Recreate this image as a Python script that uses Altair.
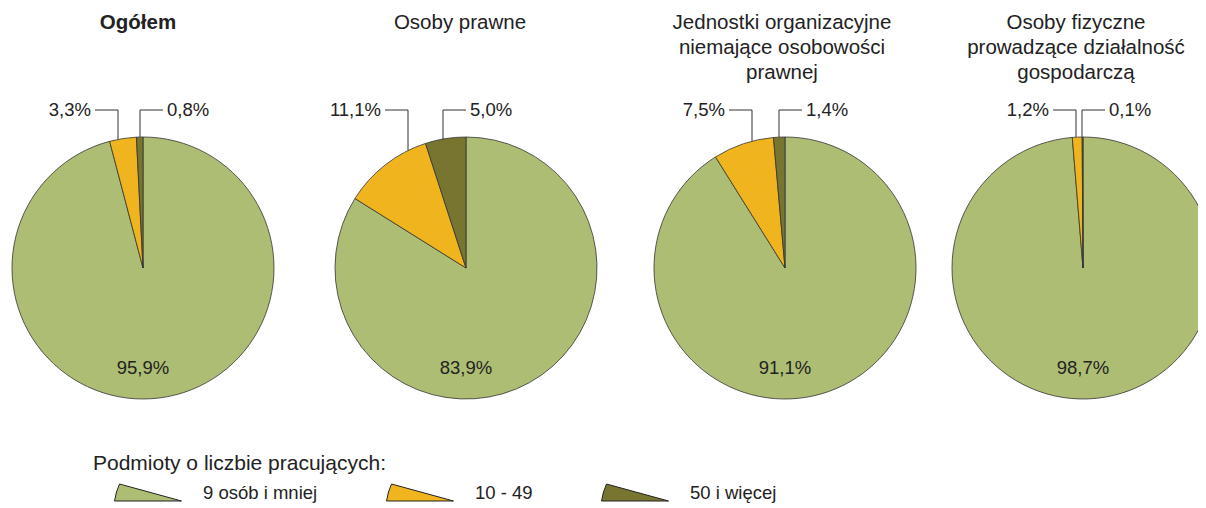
import math
import altair as alt
import pandas as pd

# ---------------- data ----------------
groups = ["Ogółem", "Osoby prawne",
          "Jednostki organizacyjne niemające osobowości prawnej",
          "Osoby fizyczne prowadzące działalność gospodarczą"]
title_lines = [["Ogółem"], ["Osoby prawne"],
               ["Jednostki organizacyjne", "niemające osobowości", "prawnej"],
               ["Osoby fizyczne", "prowadzące działalność", "gospodarczą"]]
categories = ["9 osób i mniej", "10 - 49", "50 i więcej"]
share_small = [95.9, 83.9, 91.1, 98.7]
share_medium = [3.3, 11.1, 7.5, 1.2]
share_large = [0.8, 5.0, 1.4, 0.1]
legend_title = "Podmioty o liczbie pracujących:"

# ---------------- style / layout (page pixels) ----------------
colors = ["#adbe74", "#f0b41f", "#787530"]
FONT = "Liberation Sans"
TEXT_COLOR = "#222222"
M = 8                      # page margin
PIE_CX = [143, 466, 785, 1083]
PIE_CY = 268
R = 131
TITLE_CX = [138, 460, 782, 1076]
TITLE_Y0 = 23
TITLE_DY = 25
LABEL_Y = 110
LEADER_DX_MED = [-25, -58, -33, -7]
LEADER_DX_LARGE = [-3, -23, -6, -1]
LEADER_LEN = 23
LEADER_GAP = 4
BIG_LABEL_DY = 100


def fmt(v):
    return f"{v:.1f}".replace(".", ",") + "%"


# ---------------- tables built from the lists ----------------
arc_rows, big_rows, rule_rows, lab_left, lab_right, title_rows = [], [], [], [], [], []
for i, g in enumerate(groups):
    vals = [share_small[i], share_medium[i], share_large[i]]
    total = sum(vals)
    cum = 0.0
    cx = PIE_CX[i] - M
    cy = PIE_CY - M
    for cat, v in zip(categories, vals):
        arc_rows.append(dict(group=g, cat=cat, value=v, x=cx, y=cy,
                             t0=2 * math.pi * cum / total,
                             t1=2 * math.pi * (cum + v) / total))
        cum += v
    big_rows.append(dict(text=fmt(share_small[i]), x=cx, y=cy + BIG_LABEL_DY))
    ly = LABEL_Y - M
    for dx, v, d in ((LEADER_DX_MED[i], share_medium[i], -1),
                     (LEADER_DX_LARGE[i], share_large[i], 1)):
        ax = cx + dx
        ay = cy - math.sqrt(R * R - dx * dx)
        rule_rows.append(dict(x=ax, y=ay, x2=ax, y2=ly))
        rule_rows.append(dict(x=ax, y=ly, x2=ax + d * LEADER_LEN, y2=ly))
        row = dict(text=fmt(v), x=ax + d * (LEADER_LEN + LEADER_GAP), y=ly)
        (lab_left if d < 0 else lab_right).append(row)
    for k, line in enumerate(title_lines[i]):
        title_rows.append(dict(text=line, x=TITLE_CX[i] - M,
                               y=TITLE_Y0 + k * TITLE_DY - M, bold=(i == 0)))

arc_df = pd.DataFrame(arc_rows)
big_df = pd.DataFrame(big_rows)
rule_df = pd.DataFrame(rule_rows)
left_df = pd.DataFrame(lab_left)
right_df = pd.DataFrame(lab_right)
title_df = pd.DataFrame(title_rows)

X = alt.X("x:Q", scale=None, axis=None)
Y = alt.Y("y:Q", scale=None, axis=None)

# legend wedge symbol (unit = 10 px with symbolSize 400)
WEDGE = "M5.7,0.85 L-0.5,-0.85 Q-0.85,-0.1 -1,0.85 Z"

pies = alt.Chart(arc_df).mark_arc(radius=R, stroke="#333333", strokeWidth=0.8).encode(
    x=X, y=Y,
    theta=alt.Theta("t0:Q", scale=None, stack=None),
    theta2="t1:Q",
    color=alt.Color(
        "cat:N",
        scale=alt.Scale(domain=categories, range=colors),
        sort=categories,
        legend=alt.Legend(
            title=legend_title, orient="none", legendX=93 - M, legendY=453 - M,
            direction="horizontal", columns=3, gridAlign="none",
            titleFont=FONT, titleFontSize=21, titleFontWeight="normal",
            titleColor=TEXT_COLOR, titlePadding=8, titleAnchor="start",
            titleLimit=600,
            labelFont=FONT, labelFontSize=18.5, labelColor=TEXT_COLOR,
            labelLimit=400,
            symbolType=WEDGE, symbolSize=400, symbolOffset=21, labelOffset=68,
            symbolStrokeColor="#222222", symbolStrokeWidth=1, symbolOpacity=1,
            columnPadding=47, padding=0,
        ),
    ),
    tooltip=["group:N", "cat:N", "value:Q"],
)

rules = alt.Chart(rule_df).mark_rule(color="#333333", strokeWidth=1).encode(
    x=X, y=Y, x2="x2:Q", y2="y2:Q")

txt = dict(font=FONT, fontSize=18.5, color=TEXT_COLOR, baseline="middle")
big_labels = alt.Chart(big_df).mark_text(align="center", **txt).encode(x=X, y=Y, text="text:N")
left_labels = alt.Chart(left_df).mark_text(align="right", **txt).encode(x=X, y=Y, text="text:N")
right_labels = alt.Chart(right_df).mark_text(align="left", **txt).encode(x=X, y=Y, text="text:N")

titles_bold = alt.Chart(title_df[title_df.bold]).mark_text(
    align="center", baseline="middle", font=FONT, fontSize=20.5, fontWeight="bold",
    color=TEXT_COLOR).encode(x=X, y=Y, text="text:N")
titles_norm = alt.Chart(title_df[~title_df.bold]).mark_text(
    align="center", baseline="middle", font=FONT, fontSize=20.5,
    color=TEXT_COLOR).encode(x=X, y=Y, text="text:N")

chart = alt.layer(
    pies, rules, big_labels, left_labels, right_labels, titles_bold, titles_norm
).properties(
    width=1190, height=496, padding=0,
    autosize=alt.AutoSizeParams(type="none"),
    background="white",
).configure_view(stroke=None)

chart.save("out.html", embed_options={"renderer": "svg", "actions": False})
